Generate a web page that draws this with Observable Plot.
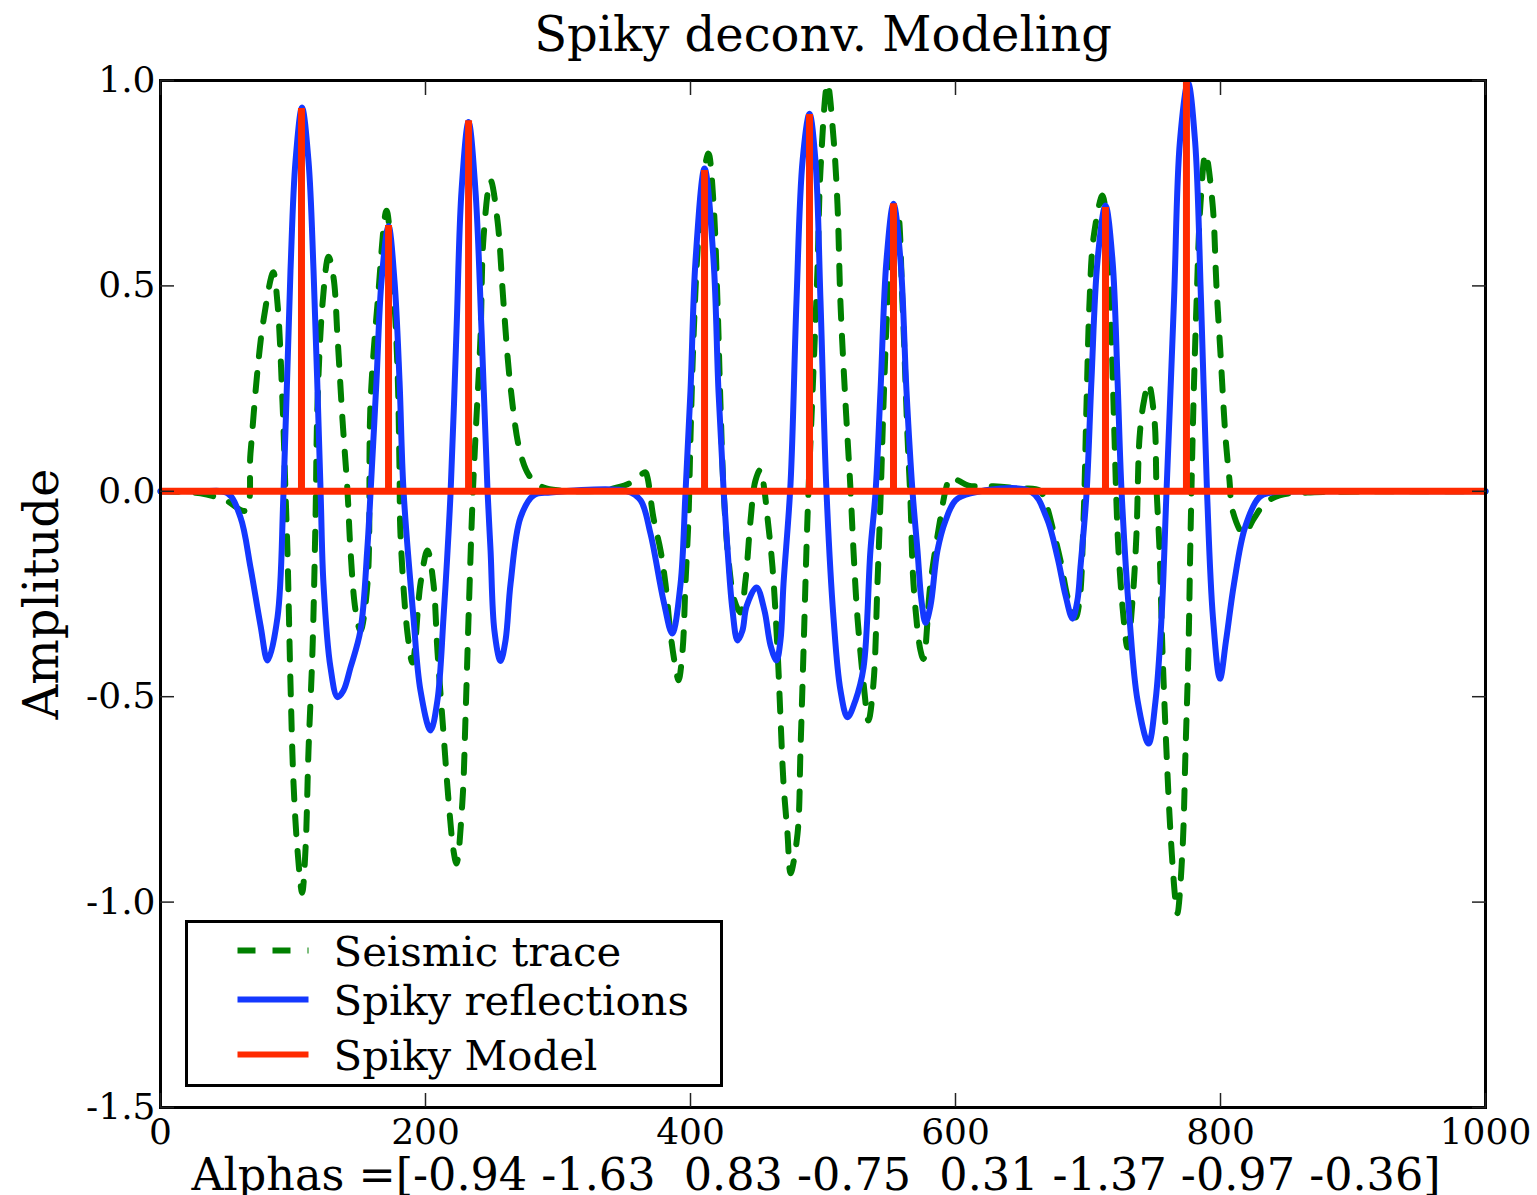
<!DOCTYPE html>
<html>
<head>
<meta charset="utf-8">
<script src="https://cdn.jsdelivr.net/npm/d3@7"></script>
<script src="https://cdn.jsdelivr.net/npm/@observablehq/plot@0.6"></script>
<style>
  html, body { margin: 0; padding: 0; background: #fff; }
  #fig { position: relative; width: 1537px; height: 1195px; overflow: hidden; }
  #fig svg { font-family: "DejaVu Serif", serif; }
  #fig svg text { white-space: pre; }
</style>
</head>
<body>
<div id="fig"></div>
<script>
// ---------- data ----------
const titleText = "Spiky deconv. Modeling";
const xLabel = "Alphas =[-0.94 -1.63  0.83 -0.75  0.31 -1.37 -0.97 -0.36]";
const yLabel = "Amplitude";
const legendLabels = ["Seismic trace", "Spiky reflections", "Spiky Model"];
const xTicks = [0, 200, 400, 600, 800, 1000];
const yTicks = [-1.5, -1.0, -0.5, 0.0, 0.5, 1.0];

// Spiky model (red): spike positions and amplitudes
const spikeX = [106.4, 172.1, 232.5, 410.6, 489.8, 553.2, 713.2, 774.3];
const spikeA = [0.932, 0.647, 0.902, 0.781, 0.917, 0.700, 0.691, 1.0];

// Spiky reflections (blue)
const reflX = [0, 30, 50.6, 60.4, 67.9, 75.5, 80.8, 88.3, 92.8, 98.1, 101.9, 106.8, 111.7, 115.5, 120.8,
  123, 128.3, 133.6, 138.1, 143.4, 150.9, 156, 158.5, 163, 166.8, 172.1, 176.6, 180.4, 183.4,
  190.9, 196.2, 203.8, 209, 213.6, 218.9, 223.4, 227.2, 232.5, 237.7, 242.3, 246.8,
  249.1, 252, 256.6, 260.4, 264.2, 271.7, 281.5, 294.3, 352.5, 362.3, 369.8, 379.6, 386.2, 392.5, 396.2,
  400, 403.8, 410.6, 417.4, 421.1, 425, 428, 431.7, 435.5, 439.2, 442.3, 449.8, 455.8, 460.4, 464.9, 467.9, 470.2,
  475.5, 480, 484.6, 489.8, 494.3, 498.1, 502.6, 507.9, 513.2, 518.5, 524.5, 530.6, 535.8, 539.6,
  543.4, 547.9, 553.2, 558.5, 563, 567.5, 571.3, 574.3, 577.4, 581.1, 586.4, 592.5, 600, 611.3,
  656.6, 668.7, 677, 683, 688.3, 692, 694.3, 698.9, 702.6, 707.2, 713.2, 718.5, 722.3, 725.3,
  731.3, 737.4, 745.7, 751, 755.5, 759.2, 764.9, 769.4, 775.5, 780.8, 785.3, 789.8,
  794.3, 799.6, 804.2, 810.2, 818.5, 829.1, 838.5, 860, 1000];
const reflY = [0, 0, -0.005, -0.064, -0.185, -0.327, -0.412, -0.307, -0.005, 0.537, 0.804, 0.934, 0.804, 0.537, 0.002,
  -0.225, -0.429, -0.501, -0.485, -0.429, -0.339, -0.144, -0.005, 0.269, 0.512, 0.646, 0.512, 0.269, 0.002,
  -0.307, -0.485, -0.582, -0.509, -0.307, -0.005, 0.391, 0.732, 0.899, 0.732, 0.391, 0.002,
  -0.144, -0.339, -0.413, -0.363, -0.225, -0.064, -0.010, -0.003, 0, -0.022, -0.103, -0.266, -0.346, -0.225, -0.005,
  0.245, 0.562, 0.786, 0.562, 0.245, 0.002, -0.144, -0.29, -0.363, -0.339, -0.280, -0.234, -0.290, -0.375, -0.412, -0.363, -0.225,
  0.019, 0.464, 0.805, 0.919, 0.805, 0.464, 0.002, -0.307, -0.485, -0.550, -0.509, -0.429, -0.144, -0.005,
  0.245, 0.562, 0.700, 0.562, 0.245, 0.002, -0.144, -0.266, -0.320, -0.279, -0.144, -0.071, -0.022, -0.005,
  0, -0.064, -0.161, -0.253, -0.310, -0.266, -0.185, -0.005, 0.270, 0.562, 0.696, 0.562, 0.270, 0.002,
  -0.307, -0.509, -0.614, -0.509, -0.307, -0.005, 0.464, 0.853, 0.995, 0.853, 0.464, 0.002,
  -0.307, -0.456, -0.363, -0.225, -0.088, -0.015, -0.003, 0, 0];

// Seismic trace (green, dashed)
const traceX = [0, 30.2, 49.1, 64.2, 67.9, 73.2, 77.7, 85.1, 88.3, 92.1, 94.3, 95.8, 98.1, 100.4, 103.4, 106.9,
  109.4, 111.7, 114.7, 117, 118.5, 122.3, 126.8, 130.6, 133.6, 137.4, 141.1, 143.4, 147.2, 150.9,
  156.2, 158.5, 163.8, 170.6, 175.8, 178.9, 180.4, 181.1, 186.4, 190.2, 196.2, 201.5, 206, 209,
  213.6, 217.4, 221.1, 223.4, 227.9, 230.2, 232.5, 235.5, 237.7, 241.5, 243.8, 249.1, 254.3, 258.9,
  264.2, 271.7, 279.2, 289.1, 301.9, 332, 352.5, 360.8, 366, 367.5, 372, 377.4, 381.1, 384.9, 388.7,
  391, 394, 396.2, 398.5, 400, 402.3, 406, 411.3, 413.6, 417.4, 420.4, 422.6, 425, 428.7, 433.2,
  437.7, 441.5, 445.3, 449, 452.8, 455.8, 458.1, 461.9, 465.7, 467.9, 470.2, 473.2, 475.5, 480.8,
  483, 485.3, 488.3, 492.8, 495.8, 498.1, 503.4, 507.9, 510.9, 513.2, 517, 520.8, 523, 526, 530.6,
  534.3, 538.1, 541.1, 543.4, 545.7, 548.7, 552.5, 556.2, 560, 563.8, 566, 568.3, 573.6, 575.8,
  581.1, 588.7, 592.5, 596.2, 602.3, 609.8, 628.7, 649, 663.4, 668.7, 673.2, 679.2, 685.3, 690.6,
  693.6, 696.6, 698.9, 701.1, 704.2, 710.9, 714.7, 717.7, 720, 721.5, 723, 726.8, 729.8, 733.6,
  736.6, 738.9, 741.9, 745.7, 750.2, 751.7, 754, 756.2, 759.2, 762.3, 766, 767.5, 771.3, 773.6,
  775.8, 777.4, 779.6, 781.9, 784.9, 788.7, 794, 797, 800, 803.8, 806.8, 809.1, 817.4, 825.7,
  833.2, 844.5, 865.7, 1000];
const traceY = [0, -0.005, -0.022, -0.047, 0.092, 0.294, 0.416, 0.533, 0.457, 0.214, 0.002, -0.144, -0.467, -0.711, -0.874, -0.977,
  -0.874, -0.631, -0.388, -0.064, 0.214, 0.457, 0.571, 0.520, 0.375, 0.172, 0.002, -0.144, -0.290, -0.339,
  -0.225, 0.214, 0.457, 0.683, 0.496, 0.294, 0.051, -0.103, -0.346, -0.417, -0.225, -0.144, -0.225, -0.388,
  -0.590, -0.753, -0.874, -0.906, -0.753, -0.550, -0.307, -0.022, 0.131, 0.375, 0.618, 0.757, 0.660, 0.457,
  0.253, 0.092, 0.034, 0.009, 0.002, 0.002, 0.017, 0.036, 0.046, 0.034, -0.064, -0.144, -0.225, -0.346, -0.429,
  -0.460, -0.388, -0.225, -0.064, 0.131, 0.375, 0.618, 0.798, 0.822, 0.700, 0.457, 0.214, 0.002, -0.168, -0.266,
  -0.295, -0.217, -0.071, 0.026, 0.053, 0.002, -0.064, -0.185, -0.388, -0.550, -0.711, -0.833, -0.930, -0.833,
  -0.631, -0.388, -0.064, 0.294, 0.537, 0.781, 0.993, 0.861, 0.700, 0.457, 0.214, 0.002, -0.144, -0.307, -0.467,
  -0.558, -0.467, -0.225, -0.022, 0.214, 0.457, 0.634, 0.683, 0.457, 0.131, -0.022, -0.225, -0.388, -0.408,
  -0.225, -0.064, 0.002, 0.034, 0.026, 0.014, 0.012, 0.007, 0.002, -0.035, -0.088, -0.168, -0.266, -0.307,
  -0.266, -0.071, 0.214, 0.457, 0.618, 0.720, 0.618, 0.375, 0.131, -0.030, -0.144, -0.307, -0.380, -0.266,
  -0.103, 0.131, 0.214, 0.262, 0.172, 0.009, -0.144, -0.388, -0.631, -0.833, -0.996, -1.027, -0.874, -0.631,
  -0.388, -0.103, 0.214, 0.457, 0.700, 0.822, 0.700, 0.496, 0.335, 0.131, 0.026, -0.047, -0.103, -0.064,
  -0.030, -0.010, -0.003, 0];

// ---------- tables built from the arrays ----------
const refl = reflX.map((x, i) => ({x, y: reflY[i]}));
const trace = traceX.map((x, i) => ({x, y: traceY[i]}));
const spikes = spikeX.map((x, i) => ({x, a: spikeA[i]}));

const GREEN = "#008000", BLUE = "#1438ff", RED = "#ff2a00";
const legendStyles = [
  {stroke: GREEN, dash: "18,17"},
  {stroke: BLUE, dash: null},
  {stroke: RED, dash: null}
];

// legend drawn inside the frame, lower-left
function legendMark(index, scales, values, dims) {
  const g = d3.create("svg:g");
  const x0 = dims.marginLeft + 26.5;
  const yB = dims.height - dims.marginBottom - 21.5;
  const w = 535, h = 164;
  const y0 = yB - h;
  g.append("rect").attr("x", x0).attr("y", y0).attr("width", w).attr("height", h)
    .attr("fill", "white").attr("stroke", "black").attr("stroke-width", 3);
  const rowY = [29, 78, 133];
  legendLabels.forEach((lab, i) => {
    const cy = y0 + rowY[i];
    g.append("line").attr("x1", x0 + 51).attr("x2", x0 + 122).attr("y1", cy).attr("y2", cy)
      .attr("stroke", legendStyles[i].stroke).attr("stroke-width", 6)
      .attr("stroke-dasharray", legendStyles[i].dash);
    g.append("text").attr("x", x0 + 147).attr("y", cy).attr("dy", "0.36em")
      .attr("text-anchor", "start")
      .attr("font-size", 41.8).attr("fill", "black").text(lab);
  });
  return g.node();
}

const chart = Plot.plot({
  width: 1537,
  height: 1195,
  marginLeft: 160,
  marginRight: 52,
  marginTop: 80,
  marginBottom: 88,
  style: {fontFamily: "DejaVu Serif", background: "white", overflow: "visible"},
  x: {domain: [0, 1000]},
  y: {domain: [-1.5, 1.0]},
  marks: [
    Plot.line(trace, {x: "x", y: "y", stroke: GREEN, strokeWidth: 6, strokeDasharray: "18,17", curve: "catmull-rom"}),
    Plot.line(refl, {x: "x", y: "y", stroke: BLUE, strokeWidth: 6, curve: "catmull-rom", strokeLinejoin: "round"}),
    Plot.ruleY([0], {stroke: RED, strokeWidth: 7}),
    Plot.ruleX(spikes, {x: "x", y1: 0, y2: "a", stroke: RED, strokeWidth: 7}),
    legendMark,
    Plot.frame({stroke: "black", strokeWidth: 3}),
    Plot.axisX({anchor: "bottom", ticks: xTicks, tickSize: -14, tickPadding: 25, fontSize: 36, tickFormat: d => String(d), label: null, stroke: "#222", strokeWidth: 1.5, fill: "black"}),
    Plot.axisX({anchor: "top", ticks: xTicks, tickSize: -14, tickFormat: () => "", label: null, stroke: "#222", strokeWidth: 1.5}),
    Plot.axisY({anchor: "left", ticks: yTicks, tickSize: -14, tickPadding: 19, fontSize: 36, tickFormat: d => d.toFixed(1), label: null, stroke: "#222", strokeWidth: 1.5, fill: "black"}),
    Plot.axisY({anchor: "right", ticks: yTicks, tickSize: -14, tickFormat: () => "", label: null, stroke: "#222", strokeWidth: 1.5}),
    Plot.text([titleText], {frameAnchor: "top", dy: -30, fontSize: 48, fill: "black", text: d => d, lineAnchor: "bottom"}),
    Plot.text([xLabel], {frameAnchor: "bottom", dx: -7, dy: 68, fontSize: 44.5, fill: "black", text: d => d, lineAnchor: "middle"}),
    Plot.text([yLabel], {frameAnchor: "left", dx: -118, rotate: -90, fontSize: 48, textAnchor: "middle", fill: "black", text: d => d})
  ]
});
document.getElementById("fig").appendChild(chart);
</script>
</body>
</html>
